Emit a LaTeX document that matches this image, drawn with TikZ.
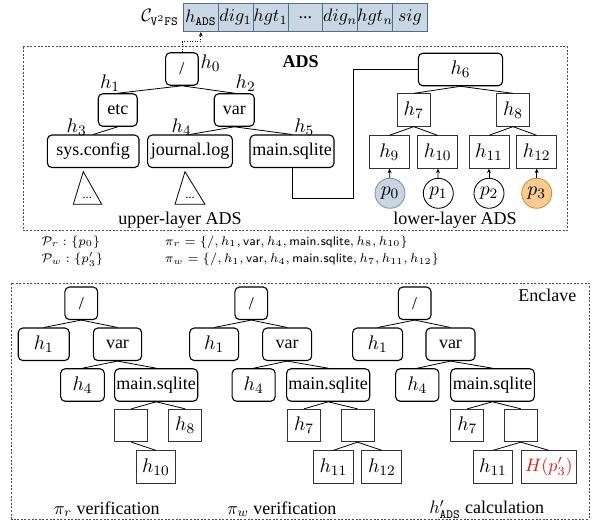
\documentclass[tikz,border=0pt]{standalone}
\usepackage{fontspec}
\setmainfont{Liberation Serif}
\usetikzlibrary{arrows.meta}
% one drawing unit
\newdimen\px \px=0.5556pt
\newcommand\smallmath{\fontsize{7}{8.5}\selectfont}
\newcommand\hashfont{\fontsize{10.95}{13}\selectfont}
\definecolor{cellfill}{RGB}{201,214,228}
\definecolor{cellline}{RGB}{79,109,138}
\definecolor{readfill}{RGB}{201,213,226}
\definecolor{readline}{RGB}{125,146,170}
\definecolor{writefill}{RGB}{248,203,147}
\definecolor{writeline}{RGB}{216,139,44}
\definecolor{newhash}{RGB}{220,25,25}
\begin{document}
\begin{tikzpicture}[x=0.5556pt,y=-0.5556pt,
  rbox/.style={draw, line width=1.1\px, rounded corners=4.5\px, minimum height=32.5\px, inner xsep=1pt, inner ysep=0pt, font=\normalsize},
  sbox/.style={draw=black!80, line width=0.8\px, minimum height=32.5\px, minimum width=33\px, inner xsep=1pt, inner ysep=0pt, font=\hashfont},
  hash/.style={font=\hashfont},
  link/.style={line width=0.8\px},
  lbl/.style={font=\normalsize, inner sep=0pt},
  frame/.style={draw=black!70, line width=0.75\px, dash pattern=on 2\px off 1.6\px},
  leaf/.style={circle, draw, line width=0.85\px, minimum size=30\px, inner sep=0pt, font=\hashfont},
  cell/.style={draw=cellline, fill=cellfill, line width=0.85\px, minimum width=34.9\px, minimum height=28.4\px, inner sep=0pt, font=\normalsize},
  up/.style={-{Stealth[length=2.5pt,width=2.2pt]}, line width=0.8\px}]
\useasboundingbox (0,0) rectangle (594,523);

% ---- certificate record ----
\node[lbl] (cname) at (160,17.5) {$\mathcal{C}_{\mathtt{V}^2\mathtt{FS}}$};
\node[cell] (hads) at (200.8,17.5) {$h_{\mathtt{ADS}}$};
\node[cell] (dig1) at (235.6,17.5) {$dig_1$};
\node[cell] (hgt1) at (270.5,17.5) {$hgt_1$};
\node[cell] (dots) at (305.4,17.5) {...};
\node[cell] (dign) at (340.2,17.5) {$dig_n$};
\node[cell] (hgtn) at (375.1,17.5) {$hgt_n$};
\node[cell] (sig)  at (410.0,17.5) {$sig$};

% ---- ADS frame ----
\draw[frame] (23.3,46.7) rectangle (567.3,230.8);
\node[lbl, font=\normalsize\bfseries] (adstitle) at (300.7,61.7) {ADS};

% upper-layer ADS
\node[rbox, minimum width=32.6\px] (root) at (182,69) {/};
\node[rbox, minimum width=39\px] (etc) at (117.8,110) {etc};
\node[rbox, minimum width=40\px] (var) at (234.3,110) {var};
\node[rbox, minimum width=91.7\px] (sys) at (93.2,151.3) {sys.config};
\node[rbox, minimum width=84.7\px] (jl) at (190,151.3) {journal.log};
\node[rbox, minimum width=84\px] (ms) at (292,151.3) {main.sqlite};
\node[lbl, hash] (l0) at (210.5,63.3) {$h_0$};
\node[lbl, hash] (l1) at (110,83.3) {$h_1$};
\node[lbl, hash] (l2) at (245.7,83.3) {$h_2$};
\node[lbl, hash] (l3) at (76.7,127.3) {$h_3$};
\node[lbl, hash] (l4) at (181.7,127.3) {$h_4$};
\node[lbl, hash] (l5) at (304.3,127.3) {$h_5$};
\draw[link] (root.south) -- (etc.north);
\draw[link] (root.south) -- (var.north);
\draw[link] (etc.south) -- (sys.north);
\draw[link] (var.south) -- (jl.north);
\draw[link] (var.south) -- (ms.north);
% collapsed subtrees
\draw[link] (83.3,171.7) -- (73.3,204.3) -- (101.7,204.3) -- cycle;
\draw[link] (185,171.7) -- (175,204.3) -- (205,204.3) -- cycle;
\node[lbl, font=\fontsize{7}{8}\selectfont] (sub1) at (87.3,198) {...};
\node[lbl, font=\fontsize{7}{8}\selectfont] (sub2) at (190,198) {...};
\node[lbl] (upcap) at (180,220) {upper-layer ADS};

% lower-layer ADS
\node[rbox, hash, minimum width=84.3\px] (h6) at (460.5,69.5) {$h_6$};
\node[sbox] (h7) at (413.7,110) {$h_7$};
\node[sbox] (h8) at (513,110) {$h_8$};
\node[sbox, minimum width=40\px] (h9) at (389.3,152) {$h_9$};
\node[sbox, minimum width=40\px] (h10) at (437.7,152) {$h_{10}$};
\node[sbox, minimum width=40\px] (h11) at (489,152) {$h_{11}$};
\node[sbox, minimum width=40\px] (h12) at (536.7,152) {$h_{12}$};
\draw[link] (h6.south) -- (h7.north);
\draw[link] (h6.south) -- (h8.north);
\draw[link] (h7.south) -- (h9.north);
\draw[link] (h7.south) -- (h10.north);
\draw[link] (h8.south) -- (h11.north);
\draw[link] (h8.south) -- (h12.north);
\node[leaf, draw=readline, fill=readfill] (p0) at (390,193.3) {$p_0$};
\node[leaf] (p1) at (438.3,193.3) {$p_1$};
\node[leaf] (p2) at (489,193.3) {$p_2$};
\node[leaf, draw=writeline, fill=writefill] (p3) at (536.7,193.3) {$p_3$};
\draw[up] (p0) -- (h9);
\draw[up] (p1) -- (h10);
\draw[up] (p2) -- (h11);
\draw[up] (p3) -- (h12);
\node[lbl] (lowcap) at (455,220) {lower-layer ADS};

% file node links to the lower layer
\coordinate (bend) at (353.3,198.3);
\draw[link] (ms.south) |- (bend) |- (h6.west);

% root hash goes to the certificate
\draw[densely dotted, line width=0.8\px, -{Stealth[length=2.5pt,width=2.2pt]}] (root.north) -- ++(0,-10.5) -| (hads.south);

% ---- proofs ----
\node[lbl, font=\smallmath, anchor=west] (pr) at (41,242) {$\mathcal{P}_r:\{p_0\}$};
\node[lbl, font=\smallmath, anchor=west] (pw) at (41,259.5) {$\mathcal{P}_w:\{p'_3\}$};
\node[lbl, font=\smallmath, anchor=west] (pir) at (164.5,242) {$\pi_r=\{/,h_1,\mathsf{var},h_4,\mathsf{main.sqlite},h_8,h_{10}\}$};
\node[lbl, font=\smallmath, anchor=west] (piw) at (164.5,259.5) {$\pi_w=\{/,h_1,\mathsf{var},h_4,\mathsf{main.sqlite},h_7,h_{11},h_{12}\}$};

% ---- enclave frame ----
\draw[frame] (11.7,283.3) rectangle (589,519);
\node[lbl] (enc) at (547.3,295) {Enclave};

% read proof verification
\node[rbox, minimum width=32.7\px] (r1) at (81.3,303.3) {/};
\node[rbox, hash, minimum width=51\px] (a1) at (43.8,344.3) {$h_1$};
\node[rbox, minimum width=48.3\px] (v1) at (117.5,344.3) {var};
\node[rbox, hash, minimum width=43.7\px] (b1) at (82.5,385) {$h_4$};
\node[rbox, minimum width=82.3\px] (m1) at (156.2,385) {main.sqlite};
\node[sbox] (e1) at (131.3,425.5) {};
\node[sbox] (c1) at (185.2,425.5) {$h_8$};
\node[sbox, minimum width=39.7\px] (d1) at (155.8,467) {$h_{10}$};
\draw[link] (r1.south) -- (a1.north);
\draw[link] (r1.south) -- (v1.north);
\draw[link] (v1.south) -- (b1.north);
\draw[link] (v1.south) -- (m1.north);
\draw[link] (m1.south) -- (e1.north);
\draw[link] (m1.south) -- (c1.north);
\draw[link] (e1.south) -- (d1.north);
\node[lbl] (cap1) at (106.7,509.3) {$\pi_r$ verification};

% write proof verification
\node[rbox, minimum width=32.7\px] (r2) at (251.3,303.3) {/};
\node[rbox, hash, minimum width=49\px] (a2) at (214.2,344.3) {$h_1$};
\node[rbox, minimum width=49\px] (v2) at (287.2,344.3) {var};
\node[rbox, hash, minimum width=43\px] (b2) at (253.7,385) {$h_4$};
\node[rbox, minimum width=82\px] (m2) at (328.2,385) {main.sqlite};
\node[sbox] (c2) at (304,425.5) {$h_7$};
\node[sbox] (e2) at (357.5,425.5) {};
\node[sbox, minimum width=40\px] (d2) at (333.3,467) {$h_{11}$};
\node[sbox, minimum width=40\px] (f2) at (381.8,467) {$h_{12}$};
\draw[link] (r2.south) -- (a2.north);
\draw[link] (r2.south) -- (v2.north);
\draw[link] (v2.south) -- (b2.north);
\draw[link] (v2.south) -- (m2.north);
\draw[link] (m2.south) -- (c2.north);
\draw[link] (m2.south) -- (e2.north);
\draw[link] (e2.south) -- (d2.north);
\draw[link] (e2.south) -- (f2.north);
\node[lbl] (cap2) at (281.7,509.3) {$\pi_w$ verification};

% new root hash calculation
\node[rbox, minimum width=32.7\px] (r3) at (414.7,303.3) {/};
\node[rbox, hash, minimum width=50\px] (a3) at (377.7,344.3) {$h_1$};
\node[rbox, minimum width=49\px] (v3) at (450.5,344.3) {var};
\node[rbox, hash, minimum width=43.3\px] (b3) at (417.3,385) {$h_4$};
\node[rbox, minimum width=83.7\px] (m3) at (492.5,385) {main.sqlite};
\node[sbox] (c3) at (467.3,425.5) {$h_7$};
\node[sbox] (e3) at (520.8,425.5) {};
\node[sbox, minimum width=39.4\px] (d3) at (493,467) {$h_{11}$};
\node[sbox, minimum width=55.7\px, text=newhash, font=\normalsize] (f3) at (548.8,467) {$H(p'_3)$};
\draw[link] (r3.south) -- (a3.north);
\draw[link] (r3.south) -- (v3.north);
\draw[link] (v3.south) -- (b3.north);
\draw[link] (v3.south) -- (m3.north);
\draw[link] (m3.south) -- (c3.north);
\draw[link] (m3.south) -- (e3.north);
\draw[link] (e3.south) -- (d3.north);
\draw[link] (e3.south) -- (f3.north);
\node[lbl] (cap3) at (486.7,509.3) {$h'_{\mathtt{ADS}}$ calculation};
\end{tikzpicture}
\end{document}
